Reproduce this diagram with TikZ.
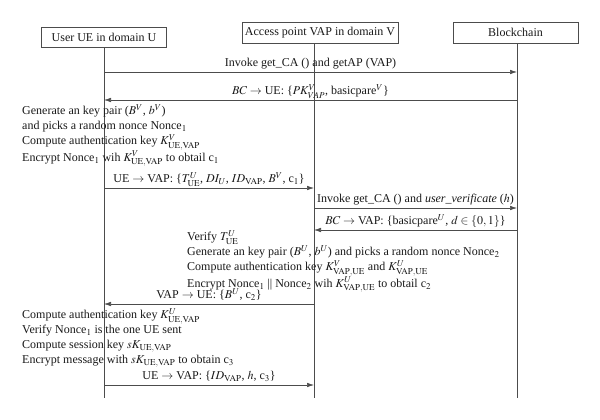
\documentclass[tikz,border=0pt]{standalone}
\usepackage{mathptmx}
\usepackage{fontspec}
\setmainfont{Liberation Serif}
\usetikzlibrary{arrows.meta,positioning}

\tikzset{
  actor/.style={draw=black!70, line width=0.6pt, minimum height=20pt, inner sep=0pt},
  life/.style={draw=black!70, line width=0.6pt},
  msg/.style={draw=black!70, line width=0.6pt, -{Latex[length=7pt,width=4.5pt]}},
  lbl/.style={anchor=base, yshift=5.5pt, inner sep=0pt},
  note/.style={anchor=west, align=left, inner sep=0pt}
}

\begin{document}
\begin{tikzpicture}[x=1pt, y=-1pt, font=\fontsize{12}{15}\selectfont, text=black!90]
\useasboundingbox (0,0) rectangle (600,420);
% participants
\node[actor, minimum width=125pt] (ue) at (104,37) {User UE in domain U};
\node[actor, minimum width=156pt, minimum height=21pt] (vap) at (320,32.5) {Access point VAP in domain V};
\node[actor, minimum width=125pt, minimum height=21pt] (bc) at (515.5,32.5) {Blockchain};
% lifelines
\coordinate (ue end) at (104,398);
\coordinate (vap end) at (314,398);
\coordinate (bc end) at (517,398);
\draw[life] (ue.south) -- (ue end);
\draw[life] (vap.south -| vap end) -- (vap end);
\draw[life] (bc.south -| bc end) -- (bc end);
% messages
\draw[msg] (ue end |- 0,72) -- node[lbl] {Invoke get\_CA () and getAP (VAP)} (bc end |- 0,72);
\draw[msg] (bc end |- 0,100) -- node[lbl] {$BC\rightarrow$ UE: \{$PK^V_{VAP}$, basicpare$^V$\}} (ue end |- 0,100);
\node[note] (uecalc) at (22,135.5) {Generate an key pair ($B^V$, $b^V$)\\
  and picks a random nonce Nonce$_1$\\
  Compute authentication key $K^V_{\mathrm{UE,VAP}}$\\
  Encrypt Nonce$_1$ wih $K^V_{\mathrm{UE,VAP}}$ to obtail c$_1$};
\draw[msg] (ue end |- 0,188) -- node[lbl] {UE $\rightarrow$ VAP: \{$T^U_{\mathrm{UE}}$, $DI_U$, $ID_{\mathrm{VAP}}$, $B^V$, c$_1$\}} (vap end |- 0,188);
\draw[msg] (vap end |- 0,208) -- node[lbl] {Invoke get\_CA () and \textit{user\_verificate} ($h$)} (bc end |- 0,208);
\draw[msg] (bc end |- 0,230) -- node[lbl] {$BC\rightarrow$ VAP: \{basicpare$^U$, $d\in\{0, 1\}$\}} (vap end |- 0,230);
\node[note] (vapcalc) at (187,261.5) {Verify $T^U_{\mathrm{UE}}$\\
  Generate an key pair ($B^U$, $b^U$) and picks a random nonce Nonce$_2$\\
  Compute authentication key $K^V_{\mathrm{VAP,UE}}$ and $K^U_{\mathrm{VAP,UE}}$\\
  Encrypt Nonce$_1$ || Nonce$_2$ wih $K^U_{\mathrm{VAP,UE}}$ to obtail c$_2$};
\draw[msg] (vap end |- 0,304) -- node[lbl] {VAP $\rightarrow$ UE: \{$B^U$, c$_2$\}} (ue end |- 0,304);
\node[note] (uekey) at (22,338) {Compute authentication key $K^U_{\mathrm{UE,VAP}}$\\
  Verify Nonce$_1$ is the one UE sent\\
  Compute session key $sK_{\mathrm{UE,VAP}}$\\
  Encrypt message with $sK_{\mathrm{UE,VAP}}$ to obtain c$_3$};
\draw[msg] (ue end |- 0,385) -- node[lbl] {UE $\rightarrow$ VAP: \{$ID_{\mathrm{VAP}}$, $h$, c$_3$\}} (vap end |- 0,385);
\end{tikzpicture}
\end{document}
